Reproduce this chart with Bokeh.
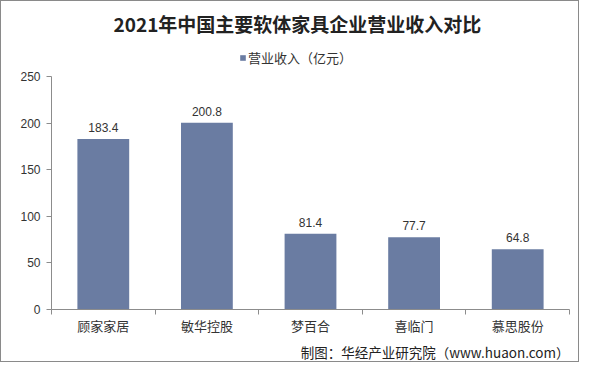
from bokeh.plotting import figure
from bokeh.models import (Range1d, FixedTicker, Legend, LegendItem, ColumnDataSource, Title)
from bokeh.core.properties import value
from bokeh.embed import file_html
from bokeh.resources import INLINE

title_text = "2021年中国主要软体家具企业营业收入对比"
series_name = "营业收入（亿元）"
categories = ["顾家家居", "敏华控股", "梦百合", "喜临门", "慕思股份"]
revenue = [183.4, 200.8, 81.4, 77.7, 64.8]
y_ticks = [0, 50, 100, 150, 200, 250]
y_max = 250
footer = "制图：华经产业研究院（www.huaon.com）"

BAR = "#6a7ca2"
AXIS = "#8c8c8c"
CJK = "Noto Sans CJK SC"
LAT = "Liberation Sans"

xs = [i + 0.5 for i in range(len(categories))]
src = ColumnDataSource(dict(x=xs, top=revenue, lab=[f"{v:.1f}" for v in revenue]))

# y range extends above 250 to leave room for the legend; axis line is bounded to 0..250
p = figure(width=579, height=362, output_backend="svg", toolbar_location=None,
           x_range=Range1d(0, len(categories)), y_range=Range1d(0, 286),
           min_border_left=50, min_border_right=11, min_border_top=42, min_border_bottom=50)
p.styles = {"border": "1px solid #8a8a8a", "box-sizing": "border-box"}
p.outline_line_color = None
p.xgrid.visible = False
p.ygrid.visible = False

r = p.vbar(x="x", top="top", width=0.5, source=src, fill_color=BAR, line_color=None)
p.text(x="x", y="top", text="lab", source=src, text_align="center", text_baseline="bottom",
       y_offset=-7, text_font=value(LAT), text_font_size="12px", text_color="#333333")

# y axis
p.yaxis.ticker = FixedTicker(ticks=y_ticks)
p.yaxis.bounds = (0, y_max)
p.yaxis.minor_tick_line_color = None
p.yaxis.major_tick_in = 0
p.yaxis.major_tick_out = 5
p.yaxis.axis_line_color = AXIS
p.yaxis.major_tick_line_color = AXIS
p.yaxis.major_label_text_font = LAT
p.yaxis.major_label_text_font_size = "12px"
p.yaxis.major_label_text_color = "#333333"
p.yaxis.major_label_standoff = 6

# x axis: labels at centers, tick marks at category boundaries
p.xaxis.ticker = FixedTicker(ticks=xs, minor_ticks=list(range(len(categories) + 1)))
p.xaxis.major_label_overrides = {x: c for x, c in zip(xs, categories)}
p.xaxis.major_tick_line_color = None
p.xaxis.minor_tick_line_color = AXIS
p.xaxis.minor_tick_in = 0
p.xaxis.minor_tick_out = 5
p.xaxis.axis_line_color = AXIS
p.xaxis.major_label_text_font = CJK
p.xaxis.major_label_text_font_size = "13px"
p.xaxis.major_label_text_color = "#333333"
p.xaxis.major_label_standoff = 0

# legend (inside the frame, above the 250 line)
leg = Legend(items=[LegendItem(label=series_name, renderers=[r])], location=(188, 242),
             orientation="horizontal", glyph_width=7, glyph_height=7, padding=0, margin=0,
             label_text_font=CJK, label_text_font_size="13px", label_text_color="#333333",
             label_standoff=2, border_line_color=None, background_fill_alpha=0)
p.add_layout(leg, "center")

# title
p.title = Title(text=title_text, align="left", text_font=CJK, text_font_size="19px",
                text_font_style="bold", text_color="#222222", standoff=13, offset=62)

# footer
p.add_layout(Title(text=footer, align="right", text_font=CJK, text_font_size="13.5px",
                   text_font_style="normal", text_color="#222222", offset=0, standoff=4), "below")

open("out.html", "w").write(file_html(p, INLINE))
